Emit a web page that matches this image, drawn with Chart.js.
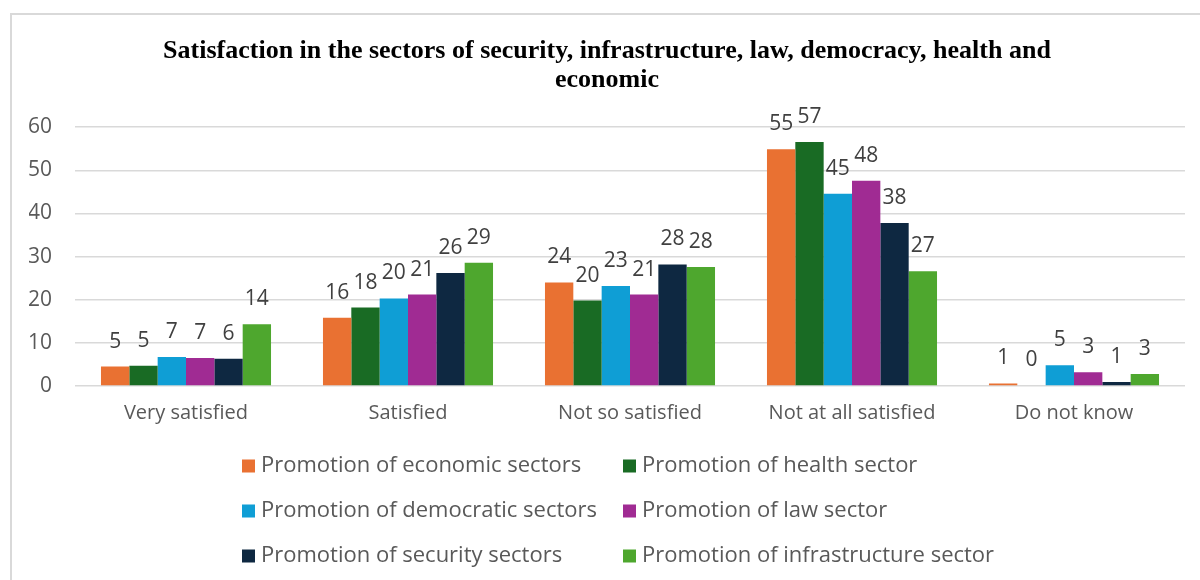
<!DOCTYPE html>
<html>
<head>
<meta charset="utf-8">
<title>Satisfaction by sector</title>
<script src="https://cdn.jsdelivr.net/npm/chart.js@4/dist/chart.umd.min.js"></script>
<style>
  html, body { margin: 0; padding: 0; background: #fff; overflow: hidden; width: 1200px; height: 580px; }
  #frame {
    position: absolute; left: 10px; top: 13px; width: 1200px; height: 567px;
    border-left: 2px solid #d9d9d9; border-top: 2px solid #d9d9d9;
  }
  #frame canvas { display: block; }
</style>
</head>
<body>
<div id="frame"><canvas id="chart" width="1200" height="565"></canvas></div>
<script>
// Response categories (x axis)
const categories = ['Very satisfied', 'Satisfied', 'Not so satisfied', 'Not at all satisfied', 'Do not know'];

// Share of respondents (%) per sector
const economic       = [4.5, 15.8, 24.0, 54.9, 0.6];
const health         = [4.7, 18.2, 19.8, 56.6, 0.2];
const democratic     = [6.7, 20.3, 23.2, 44.6, 4.8];
const law            = [6.5, 21.2, 21.2, 47.6, 3.2];
const security       = [6.3, 26.2, 28.2, 37.8, 0.9];
const infrastructure = [14.3, 28.6, 27.6, 26.6, 2.8];

const seriesNames = [
  'Promotion of economic sectors',
  'Promotion of health sector',
  'Promotion of democratic sectors',
  'Promotion of law sector',
  'Promotion of security sectors',
  'Promotion of infrastructure sector'
];
const seriesColors = ['#E97132', '#196B24', '#0F9ED5', '#A02B93', '#0E2841', '#4EA72E'];

// Y axis ticks
const yTicks = [0, 10, 20, 30, 40, 50, 60];

const titleLines = [
  'Satisfaction in the sectors of security, infrastructure, law, democracy, health and',
  'economic'
];

const textGrey = '#595959';
const sansFamily = '"Open Sans", "Liberation Sans", sans-serif';

// Rounded value written above each bar
const valueLabels = {
  id: 'valueLabels',
  afterDatasetsDraw(chart) {
    const ctx = chart.ctx;
    ctx.save();
    ctx.font = '21px ' + sansFamily;
    ctx.fillStyle = '#404040';
    ctx.textAlign = 'center';
    ctx.textBaseline = 'alphabetic';
    chart.data.datasets.forEach((ds, i) => {
      chart.getDatasetMeta(i).data.forEach((bar, j) => {
        ctx.fillText(String(Math.round(ds.data[j])), bar.x, bar.y - 19);
      });
    });
    ctx.restore();
  }
};

// Two-column legend below the plot
const gridLegend = {
  id: 'gridLegend',
  afterDraw(chart) {
    const ctx = chart.ctx;
    const cx = chart.width / 2;
    const colX = [cx - 370, cx + 11];
    const firstRow = chart.chartArea.bottom + 80;
    const rowGap = 45;
    const box = 13;
    ctx.save();
    ctx.font = '22px ' + sansFamily;
    ctx.textAlign = 'left';
    ctx.textBaseline = 'middle';
    chart.data.datasets.forEach((ds, i) => {
      const x = colX[i % 2];
      const y = firstRow + Math.floor(i / 2) * rowGap;
      ctx.fillStyle = ds.backgroundColor;
      ctx.fillRect(x, y - box / 2, box, box);
      ctx.fillStyle = textGrey;
      ctx.fillText(ds.label, x + 19, y);
    });
    ctx.restore();
  }
};

const seriesData = [economic, health, democratic, law, security, infrastructure];

new Chart(document.getElementById('chart'), {
  type: 'bar',
  data: {
    labels: categories,
    datasets: seriesData.map((values, i) => ({
      label: seriesNames[i],
      data: values,
      backgroundColor: seriesColors[i],
      borderWidth: 0,
      categoryPercentage: 0.766,
      barPercentage: 1.0
    }))
  },
  options: {
    responsive: false,
    animation: false,
    layout: { padding: { left: 17, right: 27, top: 0, bottom: 148 } },
    plugins: {
      legend: { display: false },
      tooltip: { enabled: false },
      title: {
        display: true,
        text: titleLines,
        color: '#000',
        font: { family: '"Liberation Serif", "Times New Roman", serif', size: 26, weight: 'bold', lineHeight: 1.12 },
        padding: { top: 22, bottom: 32 }
      }
    },
    scales: {
      x: {
        grid: { display: false },
        border: { display: false },
        ticks: { color: textGrey, font: { family: sansFamily, size: 20 }, padding: 7 },
        afterFit(axis) { axis.paddingLeft = 0; axis.paddingRight = 0; }
      },
      y: {
        min: yTicks[0],
        max: yTicks[yTicks.length - 1],
        afterBuildTicks(axis) { axis.ticks = yTicks.map(v => ({ value: v })); },
        afterFit(axis) { axis.width = 46; },
        grid: { color: '#d9d9d9', lineWidth: 1.5, drawTicks: false },
        border: { display: false },
        ticks: { color: textGrey, font: { family: sansFamily, size: 21 }, padding: 23 }
      }
    }
  },
  plugins: [valueLabels, gridLegend]
});
</script>
</body>
</html>
